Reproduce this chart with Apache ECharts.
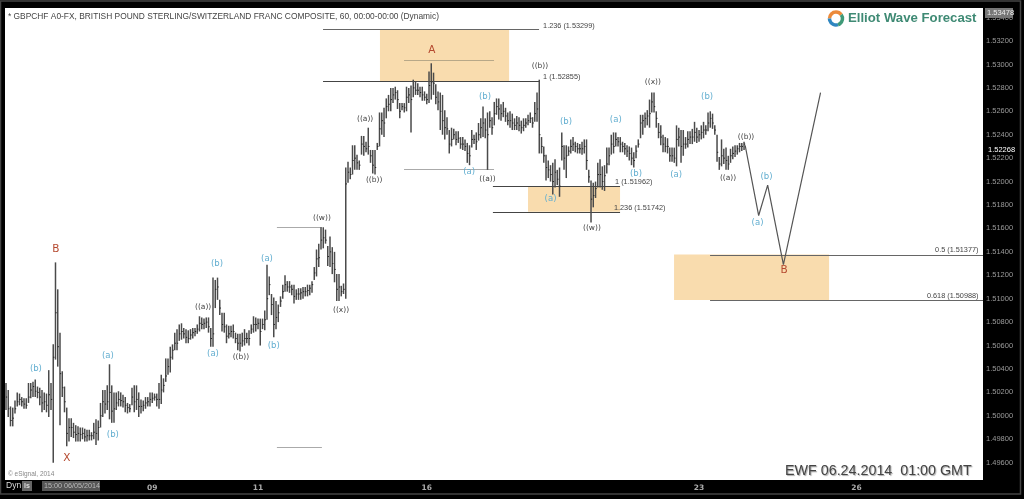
<!DOCTYPE html>
<html><head><meta charset="utf-8">
<style>html,body{margin:0;padding:0;background:#000}#c{width:1024px;height:499px;filter:blur(.35px)}</style>
<script src="https://cdn.jsdelivr.net/npm/echarts@6/dist/echarts.min.js"></script></head>
<body><div id="c"></div>
<script>
const highs=[
1.5028,1.5022,1.5008,1.5007,1.5013,1.5020,1.5019,1.5016,1.5015,1.5015,
1.5028,1.5028,1.5029,1.5031,1.5025,1.5024,1.5022,1.5020,1.5019,1.5039,
1.5028,1.5061,1.5131,1.5108,1.5071,1.5038,1.5025,1.5007,1.4998,1.4998,
1.4994,1.4992,1.4991,1.4990,1.4990,1.4989,1.4988,1.4988,1.4986,1.4994,
1.4997,1.4996,1.5011,1.5022,1.5022,1.5026,1.5044,1.5026,1.5020,1.5020,
1.5021,1.5020,1.5018,1.5016,1.5011,1.5010,1.5024,1.5026,1.5026,1.5020,
1.5014,1.5013,1.5016,1.5016,1.5020,1.5020,1.5019,1.5019,1.5028,1.5035,
1.5032,1.5049,1.5049,1.5059,1.5061,1.5071,1.5074,1.5078,1.5079,1.5075,
1.5074,1.5073,1.5074,1.5075,1.5075,1.5078,1.5085,1.5084,1.5083,1.5084,
1.5084,1.5075,1.5118,1.5116,1.5118,1.5099,1.5088,1.5088,1.5078,1.5077,
1.5077,1.5078,1.5071,1.5070,1.5070,1.5071,1.5074,1.5071,1.5073,1.5078,
1.5085,1.5084,1.5083,1.5083,1.5083,1.5090,1.5129,1.5119,1.5104,1.5101,
1.5098,1.5095,1.5102,1.5112,1.5120,1.5115,1.5115,1.5112,1.5112,1.5108,
1.5109,1.5109,1.5110,1.5110,1.5112,1.5112,1.5115,1.5127,1.5142,1.5147,
1.5161,1.5161,1.5159,1.5145,1.5153,1.5144,1.5140,1.5121,1.5121,1.5111,
1.5113,1.5212,
1.5217,1.5212,1.5231,1.5231,1.5223,1.5218,1.5239,1.5239,1.5234,1.5246,
1.5227,1.5227,1.5227,1.5233,1.5259,1.5259,1.5263,1.5271,1.5274,1.5280,
1.5280,1.5281,1.5278,1.5267,1.5267,1.5267,1.5281,1.5280,1.5282,1.5287,
1.5285,1.5284,1.5281,1.5281,1.5277,1.5275,1.5294,1.5301,1.5293,1.5283,
1.5277,1.5276,1.5274,1.5261,1.5255,1.5244,1.5246,1.5245,1.5243,1.5243,
1.5238,1.5238,1.5236,1.5233,
1.5231,1.5244,1.5240,1.5242,1.5250,1.5254,1.5264,1.5254,1.5259,
1.5260,1.5255,1.5268,1.5271,1.5271,1.5266,1.5268,1.5263,1.5259,1.5260,
1.5258,1.5254,1.5256,1.5255,1.5252,1.5254,1.5254,1.5257,1.5259,1.5255,
1.5268,1.5276,1.5287,
1.5238,1.5230,1.5223,1.5218,1.5214,1.5216,1.5219,1.5210,1.5212,1.5242,
1.5231,1.5231,1.5230,1.5236,1.5238,1.5234,1.5233,1.5232,1.5234,1.5236,
1.5236,1.5210,1.5201,1.5199,1.5200,1.5216,
1.5219,1.5213,1.5214,1.5229,1.5229,1.5240,1.5242,1.5242,1.5238,1.5238,
1.5234,1.5233,1.5231,1.5230,1.5229,1.5225,1.5231,1.5236,1.5257,1.5257,
1.5259,1.5261,1.5270,1.5276,1.5276,1.5260,1.5250,1.5248,1.5240,1.5238,
1.5237,1.5229,1.5229,1.5229,1.5248,1.5246,1.5244,1.5244,1.5238,1.5243,
1.5243,1.5245,1.5251,1.5246,1.5244,1.5248,1.5251,1.5248,1.5259,1.5260,
1.5258,1.5248,1.5240,1.5221,1.5236,1.5228,1.5229,1.5222,1.5228,1.5230,
1.5231,1.5231,1.5233,1.5233,1.5234];
const lows=[
1.5005,1.4999,1.4991,1.4991,1.5002,1.5008,1.5009,1.5008,1.5006,1.5006,
1.5011,1.5015,1.5016,1.5016,1.5015,1.5009,1.5003,1.5005,1.5003,1.4999,
1.5005,1.4960,1.5048,1.5042,1.4992,1.5016,1.5003,1.4974,1.4978,1.4982,
1.4981,1.4978,1.4978,1.4978,1.4980,1.4978,1.4978,1.4979,1.4979,1.4980,
1.4975,1.4979,1.4990,1.4999,1.5002,1.5005,1.4997,1.4994,1.4994,1.5005,
1.5008,1.5008,1.5007,1.5003,1.5002,1.5003,1.5009,1.5003,1.5005,1.4999,
1.5002,1.5004,1.5006,1.5008,1.5008,1.5011,1.5013,1.5008,1.5006,1.5010,
1.5020,1.5029,1.5035,1.5037,1.5048,1.5056,1.5056,1.5064,1.5065,1.5066,
1.5062,1.5062,1.5065,1.5066,1.5068,1.5070,1.5072,1.5074,1.5074,1.5075,
1.5071,1.5059,1.5059,1.5092,1.5099,1.5086,1.5072,1.5071,1.5062,1.5066,
1.5067,1.5066,1.5062,1.5056,1.5055,1.5059,1.5060,1.5062,1.5060,1.5070,
1.5071,1.5072,1.5074,1.5060,1.5074,1.5073,1.5082,1.5103,1.5086,1.5067,
1.5074,1.5080,1.5093,1.5100,1.5106,1.5106,1.5105,1.5103,1.5096,1.5099,
1.5099,1.5099,1.5100,1.5102,1.5102,1.5103,1.5105,1.5116,1.5119,1.5127,
1.5142,1.5143,1.5147,1.5128,1.5127,1.5121,1.5114,1.5098,1.5098,1.5102,
1.5104,1.5100,
1.5199,1.5202,1.5206,1.5210,1.5210,1.5210,1.5223,1.5222,1.5225,1.5223,
1.5216,1.5207,1.5206,1.5227,1.5230,1.5240,1.5238,1.5254,1.5260,1.5260,
1.5267,1.5270,1.5262,1.5254,1.5261,1.5259,1.5260,1.5267,1.5242,1.5272,
1.5274,1.5274,1.5272,1.5269,1.5269,1.5266,1.5267,1.5270,1.5274,1.5266,
1.5261,1.5244,1.5240,1.5236,1.5240,1.5224,1.5230,1.5236,1.5231,1.5233,
1.5228,1.5227,1.5226,1.5216,
1.5214,1.5229,1.5232,1.5227,1.5235,1.5237,1.5238,1.5237,1.5210,
1.5246,1.5240,1.5248,1.5257,1.5253,1.5252,1.5255,1.5251,1.5248,1.5246,
1.5244,1.5244,1.5244,1.5243,1.5241,1.5243,1.5246,1.5248,1.5250,1.5246,
1.5251,1.5251,1.5224,
1.5224,1.5216,1.5201,1.5203,1.5200,1.5189,1.5195,1.5197,1.5187,1.5218,
1.5210,1.5203,1.5222,1.5224,1.5226,1.5225,1.5224,1.5224,1.5223,1.5224,
1.5210,1.5199,1.5165,1.5178,1.5186,1.5195,
1.5195,1.5193,1.5192,1.5207,1.5214,1.5223,1.5224,1.5230,1.5230,1.5225,
1.5225,1.5223,1.5221,1.5218,1.5214,1.5212,1.5220,1.5229,1.5237,1.5240,
1.5246,1.5248,1.5246,1.5259,1.5259,1.5246,1.5237,1.5231,1.5225,1.5225,
1.5224,1.5217,1.5217,1.5216,1.5213,1.5230,1.5216,1.5222,1.5228,1.5229,
1.5232,1.5232,1.5234,1.5233,1.5234,1.5236,1.5237,1.5240,1.5243,1.5246,
1.5245,1.5240,1.5217,1.5210,1.5213,1.5215,1.5210,1.5210,1.5216,1.5219,
1.5221,1.5223,1.5225,1.5226,1.5227];
const closes=[
1.5016,1.5006,1.4996,1.4998,1.5006,1.5012,1.5014,1.5012,1.5010,1.5009,
1.5016,1.5022,1.5025,1.5021,1.5020,1.5016,1.5011,1.5012,1.5009,1.5018,
1.5014,1.5050,1.5088,1.5059,1.5036,1.5024,1.5012,1.4985,1.4990,1.4990,
1.4986,1.4984,1.4985,1.4984,1.4985,1.4982,1.4983,1.4983,1.4983,1.4986,
1.4985,1.4990,1.5000,1.5012,1.5010,1.5012,1.5020,1.5004,1.5006,1.5011,
1.5014,1.5013,1.5012,1.5009,1.5007,1.5006,1.5016,1.5012,1.5014,1.5008,
1.5008,1.5009,1.5011,1.5012,1.5014,1.5015,1.5016,1.5014,1.5014,1.5022,
1.5026,1.5034,1.5042,1.5050,1.5056,1.5062,1.5062,1.5070,1.5072,1.5070,
1.5067,1.5066,1.5069,1.5071,1.5072,1.5074,1.5079,1.5078,1.5079,1.5080,
1.5076,1.5066,1.5070,1.5108,1.5110,1.5092,1.5078,1.5076,1.5068,1.5070,
1.5072,1.5072,1.5066,1.5062,1.5062,1.5064,1.5066,1.5066,1.5066,1.5074,
1.5078,1.5078,1.5079,1.5072,1.5078,1.5082,1.5100,1.5112,1.5095,1.5078,
1.5084,1.5088,1.5098,1.5106,1.5112,1.5110,1.5110,1.5108,1.5102,1.5104,
1.5104,1.5105,1.5106,1.5106,1.5107,1.5109,1.5112,1.5122,1.5134,1.5135,
1.5150,1.5152,1.5150,1.5136,1.5140,1.5130,1.5125,1.5108,1.5110,1.5106,
1.5108,1.5198,
1.5208,1.5206,1.5218,1.5220,1.5216,1.5214,1.5232,1.5230,1.5228,1.5230,
1.5222,1.5214,1.5212,1.5230,1.5245,1.5252,1.5250,1.5264,1.5266,1.5270,
1.5274,1.5276,1.5270,1.5260,1.5264,1.5263,1.5272,1.5274,1.5270,1.5280,
1.5278,1.5278,1.5276,1.5274,1.5272,1.5270,1.5282,1.5285,1.5284,1.5272,
1.5268,1.5260,1.5252,1.5246,1.5245,1.5232,1.5236,1.5240,1.5236,1.5237,
1.5232,1.5232,1.5230,1.5224,
1.5222,1.5236,1.5236,1.5234,1.5240,1.5246,1.5250,1.5244,1.5240,
1.5252,1.5246,1.5258,1.5264,1.5262,1.5258,1.5260,1.5256,1.5252,1.5252,
1.5250,1.5248,1.5250,1.5248,1.5246,1.5248,1.5250,1.5252,1.5254,1.5250,
1.5258,1.5262,1.5240,
1.5230,1.5222,1.5212,1.5210,1.5206,1.5200,1.5208,1.5202,1.5196,1.5230,
1.5220,1.5222,1.5226,1.5230,1.5232,1.5230,1.5228,1.5228,1.5228,1.5230,
1.5218,1.5204,1.5185,1.5188,1.5194,1.5206,
1.5206,1.5200,1.5205,1.5215,1.5222,1.5232,1.5230,1.5236,1.5234,1.5232,
1.5230,1.5228,1.5226,1.5224,1.5220,1.5218,1.5226,1.5232,1.5250,1.5252,
1.5254,1.5256,1.5258,1.5268,1.5264,1.5254,1.5242,1.5238,1.5232,1.5230,
1.5230,1.5222,1.5222,1.5220,1.5236,1.5238,1.5230,1.5232,1.5232,1.5236,
1.5238,1.5238,1.5242,1.5238,1.5240,1.5242,1.5244,1.5244,1.5250,1.5254,
1.5250,1.5244,1.5225,1.5215,1.5222,1.5220,1.5218,1.5215,1.5222,1.5224,
1.5226,1.5228,1.5230,1.5230,1.5232];

const yTicks=[1.496,1.498,1.500,1.502,1.504,1.506,1.508,1.510,1.512,1.514,1.516,1.518,1.520,1.522,1.524,1.526,1.528,1.530,1.532,1.534];
const xTickBars=[65,112,187,308,378];
const xTickLabels=['09','11','16','23','26'];

// forecast path of the projected wave (bar index, price)
const pathBars=[328.5,334.5,338.5,345.5,362];
const pathPrices=[1.5231,1.5171,1.5197,1.5129,1.5276];

// horizontal levels: start bar, end bar, price, colour
const levelStart=[140.9,140.9,176.9,176.9,120.4,120.4,216.4,216.4,312.9,312.9];
const levelEnd=[236.9,236.9,216.9,216.9,140.4,140.4,272.9,272.9,434.2,434.2];
const levelPrice=[1.53299,1.52855,1.5304,1.5211,1.5161,1.4973,1.51962,1.51742,1.51377,1.50988];
const levelColor=['#666','#444','#b8a888','#aaa','#aaa','#aaa','#444','#444','#666','#666'];

// orange zones: start bar, end bar, top, bottom
const zoneStart=[166.2,232,296.9];
const zoneEnd=[223.6,272.9,365.8];
const zoneTop=[1.53299,1.51962,1.51377];
const zoneBottom=[1.52855,1.51742,1.50988];

// wave labels
const noteText=['(b)','(a)','(b)','(b)','(a)','(a)','(b)','(b)','(a)','(a)','(b)','(a)','(b)','(a)','(b)','(a)','(b)',
'((a))','((b))','((w))','((x))','((a))','((b))','((a))','((b))','((w))','((x))','((a))','((b))',
'B','X','A','B',
'1.236 (1.53299)','1 (1.52855)','1 (1.51962)','1.236 (1.51742)','0.5 (1.51377)','0.618 (1.50988)'];
const noteBar=[13.3,45.3,47.5,93.8,92,116,119,212.9,205.8,242,248.9,271,280,297.8,311.6,334,338,
87.6,104.4,140.4,148.9,159.6,163.6,214,237.3,260.4,287.5,320.9,328.9,
22.2,27,189.3,345.8,
238.7,238.7,270.7,270.2,412.9,409.3];
const notePrice=[1.5040,1.5051,1.4984,1.5130,1.5053,1.5134,1.5060,1.5272,1.5208,1.5185,1.5251,1.5253,1.5207,1.5206,1.5272,1.5165,1.5204,
1.5093,1.5050,1.5169,1.5090,1.5253,1.5201,1.5202,1.5299,1.5160,1.5285,1.5203,1.5238,
1.5142,1.4964,1.5312,1.5124,
1.5333,1.5289,1.5200,1.51774,1.51415,1.51022];
const noteKind=[...Array(17).fill('blue'),...Array(12).fill('dark'),...Array(4).fill('red'),...Array(6).fill('fib')];

const noteStyle={
 blue:{fill:'#62aed0',font:'8.5px "DejaVu Sans"',textAlign:'center'},
 dark:{fill:'#444',font:'7.5px "DejaVu Sans"',textAlign:'center'},
 red:{fill:'#b5492f',font:'10.5px "DejaVu Sans"',textAlign:'center'},
 fib:{fill:'#444',font:'7.3px "Liberation Sans"',textAlign:'left'}
};

const bars=highs.map((h,i)=>[i,h,lows[i],closes[i]]);

function hLine(a,b,style){return {type:'line',shape:{x1:a[0],y1:a[1],x2:b[0],y2:b[1]},style};}

const chart=echarts.init(document.getElementById('c'),null,{renderer:'canvas'});
chart.setOption({
 animation:false,
 backgroundColor:'#000',
 grid:{left:5,right:41,top:8,bottom:19,backgroundColor:'#fff',show:true,borderWidth:0},
 xAxis:{type:'value',min:-0.44,max:434.2,splitLine:{show:false},
  axisLine:{show:false},
  axisTick:{show:false},
  axisLabel:{color:'#aaa',fontSize:7.5,fontFamily:'"DejaVu Sans"',fontWeight:'bold',margin:4,
   customValues:xTickBars,formatter:v=>xTickLabels[xTickBars.indexOf(v)]||''}},
 yAxis:{type:'value',position:'right',min:1.49452,max:1.53482,scale:true,splitLine:{show:false},
  axisLine:{show:false},
  axisTick:{show:false},
  axisLabel:{color:'#9a9a9a',fontSize:7.5,fontFamily:'"Liberation Sans"',margin:3,
   customValues:yTicks,formatter:v=>v.toFixed(5)}},
 series:[
  {type:'custom',name:'zones',z:1,silent:true,coordinateSystem:'cartesian2d',clip:true,
   data:zoneStart.map((s,i)=>[s,zoneEnd[i],zoneTop[i],zoneBottom[i]]),encode:{x:[0,1],y:[2,3]},
   renderItem(p,api){
    const a=api.coord([api.value(0),api.value(2)]),b=api.coord([api.value(1),api.value(3)]);
    return {type:'rect',shape:{x:a[0],y:a[1],width:b[0]-a[0],height:b[1]-a[1]},style:{fill:'#f9dcae'}};
   }},
  {type:'custom',name:'levels',z:2,silent:true,coordinateSystem:'cartesian2d',clip:true,
   data:levelStart.map((s,i)=>[s,levelEnd[i],levelPrice[i]]),encode:{x:[0,1],y:2},
   renderItem(p,api){
    const a=api.coord([api.value(0),api.value(2)]),b=api.coord([api.value(1),api.value(2)]);
    const y=Math.round(a[1])+.5;
    return hLine([a[0],y],[b[0],y],{stroke:levelColor[p.dataIndex],lineWidth:1});
   }},
  {type:'custom',name:'GBPCHF',z:3,silent:true,coordinateSystem:'cartesian2d',clip:true,
   data:bars,encode:{x:0,y:[1,2,3]},
   renderItem(p,api){
    const h=api.coord([api.value(0),api.value(1)]),l=api.coord([api.value(0),api.value(2)]),c=api.coord([api.value(0),api.value(3)]);
    return {type:'group',children:[
     hLine(h,l,{stroke:'#4a4a4a',lineWidth:1.5}),
     hLine([c[0],c[1]],[c[0]+1.2,c[1]],{stroke:'#222',lineWidth:1})
    ]};
   }},
  {type:'line',name:'projection',z:4,silent:true,symbol:'none',
   data:pathBars.map((b,i)=>[b,pathPrices[i]]),lineStyle:{color:'#555',width:1.2}},
  {type:'custom',name:'notes',z:5,silent:true,coordinateSystem:'cartesian2d',clip:false,
   data:noteBar.map((b,i)=>[b,notePrice[i]]),encode:{x:0,y:1},
   renderItem(p,api){
    const c=api.coord([api.value(0),api.value(1)]);
    const s=noteStyle[noteKind[p.dataIndex]];
    return {type:'text',x:c[0],y:c[1],style:{text:noteText[p.dataIndex],fill:s.fill,font:s.font,textAlign:s.textAlign,textVerticalAlign:'middle'}};
   }}
 ],
 graphic:[
  {type:'rect',z:0,shape:{x:0.5,y:1,width:1020,height:493},style:{fill:null,stroke:'#444',lineWidth:1.5},silent:true},
  {type:'text',z:10,x:8,y:17,style:{text:'* GBPCHF A0-FX, BRITISH POUND STERLING/SWITZERLAND FRANC COMPOSITE, 60, 00:00-00:00 (Dynamic)',fill:'#444',font:'8.4px "Liberation Sans"',textVerticalAlign:'middle'}},
  {type:'text',z:10,x:848,y:18.5,style:{text:'Elliot Wave Forecast',fill:'#3f8a74',font:'bold 13.2px "Liberation Sans"',textVerticalAlign:'middle'}},
  {type:'arc',z:10,shape:{cx:836,cy:18.5,r:6.5,startAngle:Math.PI*1.0,endAngle:Math.PI*1.8},style:{stroke:'#ec8a3a',lineWidth:3.5,fill:null}},
  {type:'arc',z:10,shape:{cx:836,cy:18.5,r:6.5,startAngle:Math.PI*0.4,endAngle:Math.PI*1.0},style:{stroke:'#2f86c0',lineWidth:3.5,fill:null}},
  {type:'arc',z:10,shape:{cx:836,cy:18.5,r:6.5,startAngle:Math.PI*1.8,endAngle:Math.PI*2.4},style:{stroke:'#3f9a78',lineWidth:3.5,fill:null}},
  {type:'text',z:10,x:785,y:471,style:{text:'EWF 06.24.2014  01:00 GMT',fill:'#444',font:'14.3px "Liberation Sans"',textVerticalAlign:'middle',textShadowColor:'#aaa',textShadowBlur:1,textShadowOffsetX:1,textShadowOffsetY:1}},
  {type:'text',z:10,x:8,y:474,style:{text:'© eSignal, 2014',fill:'#888',font:'6.5px "Liberation Sans"',textVerticalAlign:'middle'}},
  {type:'text',z:10,x:6,y:486,style:{text:'Dyn',fill:'#ddd',font:'8.5px "Liberation Sans"',textVerticalAlign:'middle'}},
  {type:'rect',z:10,shape:{x:22,y:481,width:10,height:10},style:{fill:'#666'}},
  {type:'text',z:11,x:24,y:486,style:{text:'ls',fill:'#ddd',font:'bold 7px "Liberation Sans"',textVerticalAlign:'middle'}},
  {type:'rect',z:10,shape:{x:42,y:481,width:58,height:10},style:{fill:'#555'}},
  {type:'text',z:11,x:44,y:486,style:{text:'15:00 06/05/2014',fill:'#bbb',font:'7.2px "Liberation Sans"',textVerticalAlign:'middle'}},
  {type:'rect',z:10,shape:{x:985,y:8,width:28,height:10},style:{fill:'#777'}},
  {type:'text',z:11,x:987,y:13,style:{text:'1.53478',fill:'#eee',font:'7.5px "Liberation Sans"',textVerticalAlign:'middle'}},
  {type:'text',z:11,x:988,y:150,style:{text:'1.52268',fill:'#fff',font:'7.5px "Liberation Sans"',textVerticalAlign:'middle'}}
 ]
});
</script></body></html>
